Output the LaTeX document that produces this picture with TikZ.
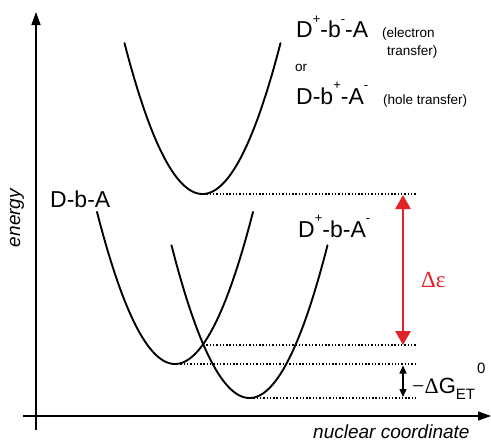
\documentclass[tikz,border=0pt]{standalone}
\usepackage{fontspec}
\setmainfont{Liberation Sans}
\newfontfamily\grk{Liberation Serif}
\usetikzlibrary{arrows.meta}
\definecolor{redarrow}{RGB}{225,35,40}
\newcommand\sups[1]{\raisebox{0.62em}{\fontsize{13}{13}\selectfont #1}}
\tikzset{
  curve/.style={line width=1.9pt, line cap=round},
  axis/.style={line width=1.4pt, -{Triangle[width=9pt,length=13pt]}},
  level/.style={line width=1.5pt, dash pattern=on 1.4pt off 1.9pt},
  big/.style={font=\fontsize{23}{26}\selectfont, inner sep=0pt, anchor=base west},
  small/.style={font=\fontsize{13.5}{15}\selectfont, inner sep=0pt, anchor=base west},
  axlabel/.style={font=\fontsize{19}{22}\selectfont\itshape, inner sep=0pt},
}
\begin{document}
\begin{tikzpicture}[x=1pt,y=-1pt]
\useasboundingbox (0,0) rectangle (491,442);
% axes
\coordinate (ybot) at (36,430);
\coordinate (ytop) at (36,12);
\coordinate (xl) at (23,416);
\coordinate (xr) at (491,416);
\draw[axis] (ybot) -- (ytop);
\draw[axis] (xl) -- (xr);
\node[axlabel, rotate=90] (en) at (17,218) {energy};
\node[axlabel, anchor=base west] (nc) at (313,438.5) {nuclear coordinate};
% curves
\draw[curve] plot[domain=-78:78, samples=80] ({202.5+\x},{194-0.0248*\x*\x});
\draw[curve] plot[domain=-78:78, samples=80] ({175+\x},{364-0.025*\x*\x});
\draw[curve] plot[domain=-78:78, samples=80] ({249.5+\x},{398-0.0251*\x*\x});
% levels
\coordinate (m1) at (203,194);
\coordinate (m1e) at (416,194);
\coordinate (cr) at (203,345);
\coordinate (cre) at (416,345);
\coordinate (m2) at (177,364);
\coordinate (m2e) at (416,364);
\coordinate (m3) at (250,398);
\coordinate (m3e) at (416,398);
\draw[level] (m1) -- (m1e);
\draw[level] (cr) -- (cre);
\draw[level] (m2) -- (m2e);
\draw[level] (m3) -- (m3e);
% arrows
\coordinate (ra) at (403,195);
\coordinate (rb) at (403,345);
\draw[redarrow, line width=2.7pt, {Triangle[width=15pt,length=14pt]}-{Triangle[width=15pt,length=14pt]}] (ra) -- (rb);
\coordinate (ga) at (403,365.5);
\coordinate (gb) at (403,397);
\draw[line width=1.4pt, {Triangle[width=7pt,length=8pt]}-{Triangle[width=7pt,length=8pt]}] (ga) -- (gb);
% labels
\node[big] (t1) at (296,37.5) {D\sups{+}-b\sups{-}-A};
\node[small] (t1a) at (382,37) {(electron};
\node[small] (t1b) at (387,55) {transfer)};
\node[small] (or) at (295,71) {or};
\node[big] (t2) at (296,104) {D-b\sups{+}-A\sups{-}};
\node[small] (t2a) at (383,104) {(hole transfer)};
\node[big] (dba) at (50,207) {D-b-A};
\node[big] (cs) at (298,237) {D\sups{+}-b-A\sups{-}};
\node[font=\fontsize{23}{26}\selectfont\grk, text=redarrow, inner sep=0pt, anchor=base west] (de) at (421,287) {Δε};
\node[font=\fontsize{22}{26}\selectfont, inner sep=0pt, anchor=base west] (dg) at (412,393) {{\grk −Δ}G\raisebox{-0.28em}{\fontsize{15}{15}\selectfont ET}\hspace{2pt}\raisebox{0.9em}{\fontsize{15}{15}\selectfont 0}};
\end{tikzpicture}
\end{document}
